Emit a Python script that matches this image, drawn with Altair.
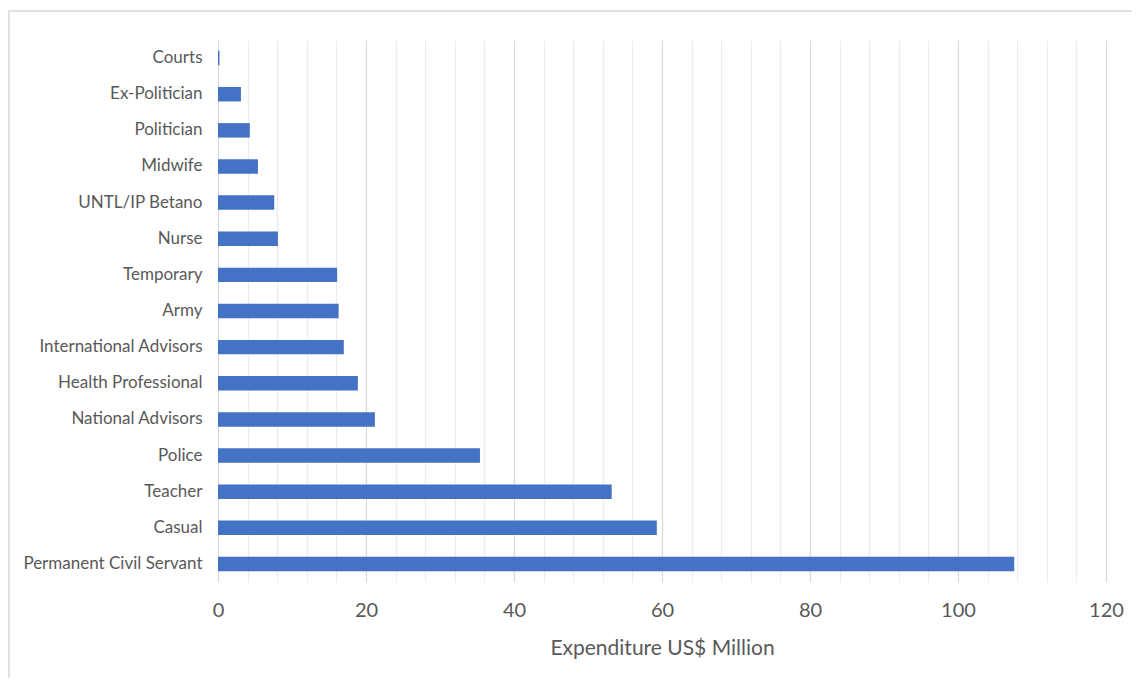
import altair as alt
import pandas as pd

categories = [
    "Courts", "Ex-Politician", "Politician", "Midwife", "UNTL/IP Betano",
    "Nurse", "Temporary", "Army", "International Advisors",
    "Health Professional", "National Advisors", "Police", "Teacher",
    "Casual", "Permanent Civil Servant",
]
values = [0.2, 3.1, 4.3, 5.4, 7.6, 8.1, 16.1, 16.3, 17.0, 18.9, 21.2, 35.4, 53.2, 59.3, 107.6]

grid_values = list(range(0, 121, 4))

df = pd.DataFrame({"category": categories, "value": values})
frame_df = pd.DataFrame({"k": [0]})

FONT = "Lato"
GRAY = "#595959"

bars = alt.Chart(df).mark_bar(color="#4472C4").encode(
    x=alt.X(
        "value:Q",
        scale=alt.Scale(domain=[0, 120], nice=False, zero=True),
        axis=alt.Axis(
            values=grid_values,
            labelExpr="datum.value % 20 === 0 ? datum.label : ''",
            grid=True,
            gridColor={"condition": {"test": "datum.value % 20 === 0", "value": "#d9d9d9"}, "value": "#ececec"},
            gridWidth=1.2,
            domain=False,
            ticks=False,
            labelFont=FONT,
            labelFontSize=20,
            labelColor=GRAY,
            labelPadding=18,
            labelFlush=False,
            title="Expenditure US$ Million",
            titleFont=FONT,
            titleFontSize=21,
            titleFontWeight="normal",
            titleColor=GRAY,
            titleY=66,
            titleBaseline="middle",
        ),
    ),
    y=alt.Y(
        "category:N",
        sort=categories,
        scale=alt.Scale(paddingInner=0.6, paddingOuter=0.3),
        axis=alt.Axis(
            title=None,
            domain=False,
            ticks=False,
            grid=False,
            labelFont=FONT,
            labelFontSize=17,
            labelColor=GRAY,
            labelPadding=16,
            labelLimit=400,
        ),
    ),
)

frame = alt.Chart(frame_df).mark_rect(fill=None, stroke="#d9d9d9", strokeWidth=1.5).encode(
    x=alt.value(-209),
    x2=alt.value(930),
    y=alt.value(-29),
    y2=alt.value(660),
)

chart = alt.layer(frame, bars).properties(
    width=888,
    height=542,
    background="white",
    padding={"left": 210, "top": 32, "right": 26, "bottom": 96},
    autosize=alt.AutoSizeParams(type="none"),
).configure_view(stroke=None, strokeWidth=0)

chart.save("out.html", embed_options={"renderer": "svg", "actions": False})
